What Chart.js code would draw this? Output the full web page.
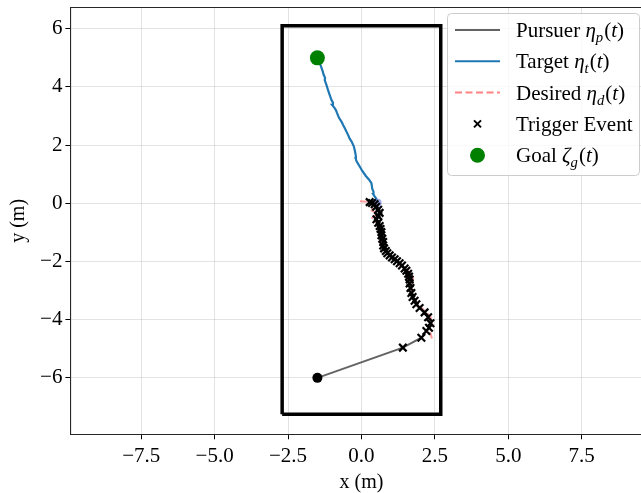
<!DOCTYPE html>
<html>
<head>
<meta charset="utf-8">
<title>Pursuit trajectory</title>
<script src="https://cdn.jsdelivr.net/npm/chart.js@4.4.1/dist/chart.umd.min.js"></script>
<style>
  html, body { margin: 0; padding: 0; background: #fff; overflow: hidden; }
  #wrap { width: 660px; height: 493px; }
</style>
</head>
<body>
<div id="wrap"><canvas id="chart" width="660" height="493"></canvas></div>
<script>
/* ---------- Data ---------- */

const xTicks = [-7.5, -5.0, -2.5, 0.0, 2.5, 5.0, 7.5];
const yTicks = [-6, -4, -2, 0, 2, 4, 6];

// arena boundary
const rectX = [-2.7, 2.7, 2.7, -2.7, -2.7];
const rectY = [-7.25, -7.25, 6.1, 6.1, -7.25];

// target, from its start near the origin up to the goal
const targetX = [0.53, 0.51, 0.45, 0.40, 0.41, 0.37, 0.34, 0.26, 0.15, 0.03, -0.08, -0.17, -0.20, -0.19, -0.22, -0.26,
  -0.34, -0.40, -0.46, -0.57, -0.62, -0.68, -0.76, -0.83, -0.86, -0.91, -1.00, -0.97, -1.02, -1.10, -1.14, -1.19,
  -1.25, -1.24, -1.28, -1.33, -1.39, -1.51];
const targetY = [0.06, 0.15, 0.24, 0.32, 0.40, 0.49, 0.69, 0.81, 0.94, 1.11, 1.30, 1.45, 1.55, 1.62, 1.79, 1.96,
  2.13, 2.22, 2.36, 2.59, 2.68, 2.81, 2.93, 3.10, 3.18, 3.27, 3.38, 3.46, 3.55, 3.78, 3.90, 4.06,
  4.23, 4.32, 4.40, 4.57, 4.74, 5.00];

// pursuer start
const startX = [-1.5];
const startY = [-6.0];

// trigger events (pursuer positions), from the start side upwards
const triggerX = [1.41, 2.04, 2.21, 2.30, 2.35, 2.27, 2.15, 1.98, 1.87, 1.81, 1.74, 1.70, 1.67, 1.64, 1.64, 1.62,
  1.59, 1.53, 1.47, 1.38, 1.30, 1.21, 1.13, 1.04, 0.96, 0.88, 0.83, 0.77, 0.74, 0.74, 0.71, 0.68, 0.68, 0.65,
  0.62, 0.57, 0.51, 0.57, 0.62, 0.57, 0.50, 0.45, 0.36, 0.28];
const triggerY = [-4.96, -4.62, -4.39, -4.28, -4.12, -3.92, -3.75, -3.60, -3.47, -3.35, -3.22, -3.08, -2.91, -2.76,
  -2.62, -2.52, -2.42, -2.32, -2.24, -2.14, -2.06, -1.99, -1.92, -1.86, -1.79, -1.72, -1.64, -1.55, -1.45, -1.33,
  -1.22, -1.10, -0.99, -0.88, -0.78, -0.67, -0.55, -0.44, -0.33, -0.22, -0.12, -0.03, 0.01, 0.04];

// pursuer path = start + trigger positions
const pursuerX = startX.concat(triggerX);
const pursuerY = startY.concat(triggerY);

// desired positions
const desiredX = [-0.05, 0.30, 0.50, 0.35, 0.55, 0.33, 0.60, 0.65, 0.62, 0.78, 1.05, 1.30, 1.60, 1.76, 1.70, 1.75,
  1.90, 2.15, 2.35, 2.40, 2.30, 2.40];
const desiredY = [0.07, 0.05, -0.05, -0.25, -0.35, -0.53, -0.70, -1.00, -1.33, -1.60, -1.85, -2.10, -2.35, -2.57,
  -2.90, -3.20, -3.45, -3.70, -3.90, -4.10, -4.30, -4.65];

// goal and target start
const goalX = [-1.5];
const goalY = [5.0];
const tStartX = [0.55];
const tStartY = [0.02];

/* ---------- Helpers ---------- */

function pts(xs, ys) {
  return xs.map((x, i) => ({ x: x, y: ys[i] }));
}

const SERIF = "'Liberation Serif', 'Times New Roman', serif";
const MINUS = '\u2212';

function fmt(v, digits) {
  const s = Math.abs(v).toFixed(digits);
  return v < 0 ? MINUS + s : s;
}

// drop the label-overflow padding chart.js adds so the plot area is exact
function noPad(s) {
  s.paddingTop = 0;
  s.paddingBottom = 0;
  s.paddingLeft = 0;
  s.paddingRight = 0;
}

/* ---------- Frame + legend plugin ---------- */

const legendItems = [
  { kind: 'line', color: '#636363', parts: [['Pursuer ', 0], ['\u03B7', 1], ['p', 2], ['(', 0], ['t', 1], [')', 0]] },
  { kind: 'line', color: '#1f77b4', parts: [['Target ', 0], ['\u03B7', 1], ['t', 2], ['(', 0], ['t', 1], [')', 0]] },
  { kind: 'dash', color: 'rgba(255,90,90,0.75)', parts: [['Desired ', 0], ['\u03B7', 1], ['d', 2], ['(', 0], ['t', 1], [')', 0]] },
  { kind: 'cross', color: '#000', parts: [['Trigger Event', 0]] },
  { kind: 'dot', color: '#008000', parts: [['Goal ', 0], ['\u03B6', 1], ['g', 2], ['(', 0], ['t', 1], [')', 0]] },
];

function drawRich(ctx, x, y, parts, size) {
  parts.forEach(([t, s]) => {
    const fs = s === 2 ? size * 0.7 : size;
    ctx.font = (s ? 'italic ' : '') + fs + 'px ' + SERIF;
    ctx.fillText(t, x, y + (s === 2 ? size * 0.24 : 0));
    x += ctx.measureText(t).width + (s === 2 ? 1 : 0);
  });
}

const framePlugin = {
  id: 'frame',
  afterDraw(chart) {
    const { ctx, chartArea: a } = chart;
    ctx.save();
    // top and right spines
    ctx.strokeStyle = '#262626';
    ctx.lineWidth = 1.1;
    ctx.beginPath();
    ctx.moveTo(a.left, a.top);
    ctx.lineTo(a.right, a.top);
    ctx.lineTo(a.right, a.bottom);
    ctx.stroke();

    // legend box
    const bx = 447.5, by = 13.5, bw = 192, bh = 162;
    ctx.beginPath();
    ctx.roundRect(bx, by, bw, bh, 4);
    ctx.fillStyle = 'rgba(255,255,255,0.8)';
    ctx.fill();
    ctx.strokeStyle = '#cccccc';
    ctx.lineWidth = 1;
    ctx.stroke();

    const size = 21;
    legendItems.forEach((it, i) => {
      const cy = 30 + i * 31.3;
      ctx.strokeStyle = it.color;
      ctx.fillStyle = it.color;
      if (it.kind === 'line' || it.kind === 'dash') {
        ctx.lineWidth = 2;
        ctx.setLineDash(it.kind === 'dash' ? [7, 3.5] : []);
        ctx.beginPath();
        ctx.moveTo(455, cy);
        ctx.lineTo(500, cy);
        ctx.stroke();
        ctx.setLineDash([]);
      } else if (it.kind === 'cross') {
        ctx.lineWidth = 2;
        ctx.beginPath();
        ctx.moveTo(474, cy - 3.5); ctx.lineTo(481, cy + 3.5);
        ctx.moveTo(474, cy + 3.5); ctx.lineTo(481, cy - 3.5);
        ctx.stroke();
      } else {
        ctx.beginPath();
        ctx.arc(477.5, cy, 7.5, 0, Math.PI * 2);
        ctx.fill();
      }
      ctx.fillStyle = '#000';
      ctx.textBaseline = 'alphabetic';
      drawRich(ctx, 516, cy + 7, it.parts, size);
    });
    ctx.restore();
  },
};

/* ---------- Chart ---------- */

const tickFont = { family: SERIF, size: 21 };

new Chart(document.getElementById('chart'), {
  type: 'scatter',
  data: {
    datasets: [
      {
        label: 'Goal',
        data: pts(goalX, goalY),
        backgroundColor: '#008000',
        borderWidth: 0,
        pointRadius: 7.5,
        order: 0,
      },
      {
        label: 'Pursuer start',
        data: pts(startX, startY),
        backgroundColor: '#000',
        borderWidth: 0,
        pointRadius: 5,
        order: 1,
      },
      {
        label: 'Trigger Event',
        data: pts(triggerX, triggerY),
        pointStyle: 'crossRot',
        borderColor: '#000',
        borderWidth: 2.2,
        pointRadius: 5.3,
        order: 2,
      },
      {
        label: 'Target start',
        data: pts(tStartX, tStartY),
        backgroundColor: 'rgba(120,130,220,0.7)',
        borderWidth: 0,
        pointRadius: 4,
        order: 3,
      },
      {
        label: 'Desired',
        data: pts(desiredX, desiredY),
        showLine: true,
        borderColor: 'rgba(255,90,90,0.6)',
        borderWidth: 2,
        borderDash: [7, 3.5],
        pointRadius: 0,
        order: 4,
      },
      {
        label: 'Target',
        data: pts(targetX, targetY),
        showLine: true,
        borderColor: '#1f77b4',
        borderWidth: 2.2,
        pointRadius: 0,
        order: 5,
      },
      {
        label: 'Pursuer',
        data: pts(pursuerX, pursuerY),
        showLine: true,
        borderColor: '#636363',
        borderWidth: 2,
        pointRadius: 0,
        order: 6,
      },
      {
        label: 'Arena',
        data: pts(rectX, rectY),
        showLine: true,
        borderColor: '#000',
        borderWidth: 3.5,
        borderJoinStyle: 'miter',
        pointRadius: 0,
        order: 7,
      },
    ],
  },
  options: {
    responsive: false,
    devicePixelRatio: 1,
    animation: false,
    events: [],
    layout: { padding: { top: 3, right: 7, left: 0, bottom: 0 } },
    scales: {
      x: {
        type: 'linear',
        min: -9.91,
        max: 9.91,
        afterBuildTicks: (s) => { s.ticks = xTicks.map((v) => ({ value: v })); },
        afterFit: (s) => { s.height = 58.7; noPad(s); },
        grid: { color: 'rgba(176,176,176,0.35)', lineWidth: 1, tickColor: '#000', tickLength: 5, tickWidth: 1 },
        border: { display: true, color: '#262626', width: 1.1 },
        ticks: {
          autoSkip: false,
          maxRotation: 0,
          padding: 5,
          color: '#000',
          font: tickFont,
          callback: (v) => fmt(v, 1),
        },
        title: {
          display: true,
          text: 'x (m)',
          color: '#000',
          font: { family: SERIF, size: 20, lineHeight: 1 },
          padding: { top: 0, bottom: 0 },
        },
      },
      y: {
        type: 'linear',
        min: -7.94,
        max: 6.73,
        afterBuildTicks: (s) => { s.ticks = yTicks.map((v) => ({ value: v })); },
        afterFit: (s) => { s.width = 70.4; noPad(s); },
        grid: { color: 'rgba(176,176,176,0.35)', lineWidth: 1, tickColor: '#000', tickLength: 5, tickWidth: 1 },
        border: { display: true, color: '#262626', width: 1.1 },
        ticks: {
          autoSkip: false,
          padding: 3,
          color: '#000',
          font: tickFont,
          callback: (v) => fmt(v, 0),
        },
        title: {
          display: true,
          text: 'y (m)',
          color: '#000',
          font: { family: SERIF, size: 20, lineHeight: 1 },
          padding: { top: 9, bottom: 0 },
        },
      },
    },
    plugins: {
      legend: { display: false },
      tooltip: { enabled: false },
    },
  },
  plugins: [framePlugin],
});
</script>
</body>
</html>
